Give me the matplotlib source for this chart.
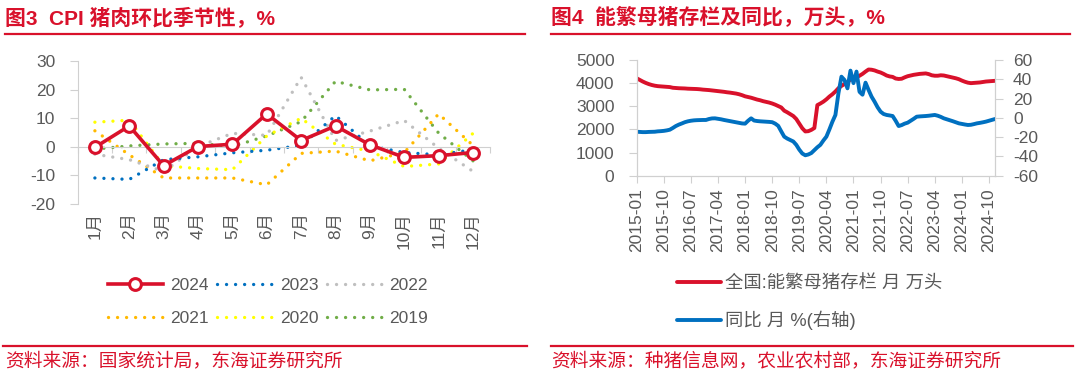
import matplotlib
matplotlib.use('Agg')
import matplotlib.pyplot as plt
from matplotlib.lines import Line2D
import numpy as np

plt.rcParams['font.family'] = ['Liberation Sans', 'Noto Sans CJK SC']
plt.rcParams['axes.unicode_minus'] = False

# ---------------- data: left chart (CPI pork MoM, %) ----------------
months = ['1月', '2月', '3月', '4月', '5月', '6月', '7月', '8月', '9月', '10月', '11月', '12月']
s2024 = [-0.2, 7.3, -6.6, 0.1, 0.9, 11.5, 2.2, 7.3, 0.7, -3.7, -3.1, -2.0]
s2023 = [-10.9, -11.4, -4.5, -3.5, -2.1, -1.2, 0.5, 10.9, 0.3, -2.0, -2.8, -1.0]
s2022 = [-2.6, -4.5, -8.6, 0.1, 4.7, 4.0, 24.3, 2.2, 5.5, 9.2, -0.5, -8.6]
s2021 = [5.6, -2.8, -10.9, -10.9, -10.9, -13.3, -2.3, -1.5, -4.9, -2.0, 11.5, 0.5]
s2020 = [8.6, 9.3, -6.6, -7.6, -8.0, 3.8, 10.0, 0.9, -1.5, -6.9, -6.0, 4.7]
s2019 = [-0.8, 0.3, 1.0, 1.2, 0.1, 3.8, 8.8, 22.9, 19.9, 20.1, 4.8, -4.9]

# ---------------- data: right chart (sows inventory) ----------------
sows = [
    4210, 4140, 4070, 4010, 3960, 3920, 3890, 3870, 3860, 3850, 3840, 3830,   # 2015
    3800, 3790, 3780, 3775, 3770, 3760, 3755, 3750, 3745, 3735, 3720, 3710,   # 2016
    3700, 3685, 3670, 3655, 3640, 3625, 3605, 3590, 3570, 3550, 3520, 3480,   # 2017
    3430, 3400, 3370, 3330, 3290, 3260, 3220, 3190, 3160, 3120, 3070, 3010,   # 2018
    2950, 2810, 2740, 2660, 2580, 2450, 2250, 2050, 1913, 1924, 1980, 2060,   # 2019
    3050, 3120, 3200, 3300, 3420, 3520, 3640, 3780, 3880, 3960, 4040, 4160,   # 2020
    4200, 4260, 4320, 4400, 4500, 4590, 4580, 4550, 4500, 4460, 4400, 4330,   # 2021
    4290, 4270, 4200, 4180, 4190, 4250, 4300, 4330, 4360, 4380, 4400, 4410,   # 2022
    4420, 4390, 4340, 4320, 4320, 4340, 4330, 4300, 4270, 4240, 4210, 4170,   # 2023
    4110, 4060, 4020, 4000, 4010, 4020, 4030, 4050, 4070, 4080, 4090, 4100,   # 2024
]
yoy = [
    -14.4, -14.6, -14.8, -14.8, -14.6, -14.5, -14.4, -14.0, -13.8, -13.5, -13.0, -12.3,  # 2015
    -10.5, -8.5, -7.0, -5.8, -4.5, -3.6, -3.0, -2.6, -2.4, -2.3, -2.2, -2.2,             # 2016
    -1.2, -0.6, -0.5, -1.0, -1.5, -2.2, -2.8, -3.4, -4.0, -4.6, -5.2, -5.8,              # 2017
    -6.0, -3.0, -0.5, -2.8, -3.3, -3.6, -3.8, -4.0, -4.2, -4.5, -6.0, -8.3,              # 2018
    -14.0, -19.5, -21.5, -23.0, -24.5, -28.0, -33.0, -37.0, -38.8, -38.0, -36.5, -33.5,  # 2019
    -30.5, -28.0, -23.5, -19.5, -12.0, -4.0, 3.0, 25.5, 42.7, 39.3, 30.6, 49.0,          # 2020
    36.0, 48.0, 27.0, 24.0, 36.5, 29.0, 22.0, 16.8, 11.0, 6.4, 4.0, 3.0,                 # 2021
    2.5, 1.9, -3.0, -8.5, -7.5, -6.0, -5.0, -3.0, -1.0, 1.2, 1.5, 1.7,                   # 2022
    1.9, 2.2, 2.6, 3.0, 2.2, 1.0, -0.5, -1.5, -2.5, -3.5, -4.6, -5.7,                    # 2023
    -6.3, -6.9, -7.4, -7.2, -6.5, -5.7, -5.2, -4.6, -3.9, -3.0, -2.1, -1.2,              # 2024
]
date_tick_labels = ['2015-01', '2015-10', '2016-07', '2017-04', '2018-01', '2018-10', '2019-07',
                    '2020-04', '2021-01', '2021-10', '2022-07', '2023-04', '2024-01', '2024-10']

W, H = 1075, 384
fig = plt.figure(figsize=(W / 100, H / 100), dpi=100)


def fx(px):
    return px / W


def fy(py):
    return 1 - py / H


RED = '#d9112b'
TXT = '#595959'
AXC = '#d0d0d0'
BLUE = '#0070c0'

# ---------------- headers & footers ----------------
fig.text(fx(5), fy(18), '图3  CPI 猪肉环比季节性，%', color=RED, fontsize=15, fontweight='bold',
         ha='left', va='center')
fig.text(fx(551), fy(18), '图4  能繁母猪存栏及同比，万头，%', color=RED, fontsize=15, fontweight='bold',
         ha='left', va='center')
for x0, x1 in [(5, 525), (551, 1070)]:
    fig.add_artist(Line2D([fx(x0), fx(x1)], [fy(34), fy(34)], color=RED, lw=1.6))
for x0, x1 in [(3, 527), (551, 1073)]:
    fig.add_artist(Line2D([fx(x0), fx(x1)], [fy(346), fy(346)], color=RED, lw=1.6))
fig.text(fx(5), fy(361), '资料来源：国家统计局，东海证券研究所', color=RED, fontsize=13.5,
         ha='left', va='center')
fig.text(fx(551), fy(361), '资料来源：种猪信息网，农业农村部，东海证券研究所', color=RED, fontsize=13.5,
         ha='left', va='center')

# ---------------- left chart ----------------
ax1 = fig.add_axes([fx(77.7), fy(204), fx(490.2) - fx(77.7), (204 - 61) / H])
x = np.arange(len(months))
dot = (0, (0.01, 2.7))
series = [('2019', s2019, '#70ad47'), ('2020', s2020, '#ffff00'), ('2021', s2021, '#ffb900'),
          ('2022', s2022, '#bfbfbf'), ('2023', s2023, BLUE)]
handles = {}
for name, vals, col in series:
    ln, = ax1.plot(x, vals, color=col, lw=2.4, linestyle=dot, dash_capstyle='round', label=name)
    handles[name] = ln
ln24, = ax1.plot(x, s2024, color=RED, lw=2.6, marker='o', markersize=8.5, markerfacecolor='white',
                 markeredgecolor=RED, markeredgewidth=2.2, label='2024', zorder=5)
handles['2024'] = ln24

ax1.set_xlim(-0.5, 11.5)
ax1.set_ylim(-20, 30)
for s in ['top', 'right']:
    ax1.spines[s].set_visible(False)
ax1.spines['bottom'].set_position(('data', 0))
ax1.spines['bottom'].set_color(AXC)
ax1.spines['left'].set_color(AXC)
ax1.set_xticks(np.arange(-0.5, 12, 1))
ax1.set_xticklabels([])
ax1.tick_params(axis='x', length=4, color=AXC, direction='out')
ax1.set_yticks(range(-20, 31, 10))
ax1.tick_params(axis='y', length=6, color=AXC, labelsize=12.5, labelcolor=TXT, pad=10)
sec = ax1.secondary_xaxis('bottom')
sec.set_xticks(x, labels=months)
sec.tick_params(length=0, pad=6, labelrotation=90, labelsize=12.5, labelcolor=TXT)
sec.spines['bottom'].set_visible(False)

# column-major fill so rows read 2024 2023 2022 / 2021 2020 2019
order = ['2024', '2021', '2023', '2020', '2022', '2019']
fig.legend([handles[k] for k in order], order, loc='center', ncol=3,
           bbox_to_anchor=(fx(268), fy(302)), frameon=False, fontsize=12.5,
           labelcolor=TXT, handlelength=3.2, handletextpad=0.4, columnspacing=0.5,
           labelspacing=1.0, borderpad=0, borderaxespad=0)

# ---------------- right chart ----------------
ax2 = fig.add_axes([fx(636.7), fy(175.7), fx(995) - fx(636.7), (175.7 - 60) / H])
idx = np.arange(len(sows))
l1, = ax2.plot(idx, sows, color=RED, lw=2.8, solid_capstyle='round')
ax2.set_xlim(0, len(sows) - 1)
ax2.set_ylim(0, 5000)
ax2.set_yticks(range(0, 5001, 1000))
ax2.set_xticks(np.arange(0, len(sows), 9), labels=date_tick_labels)
ax2.tick_params(axis='x', length=5, color=AXC, labelrotation=90, labelsize=12.5, labelcolor=TXT, pad=4)
ax2.tick_params(axis='y', length=6, color=AXC, labelsize=12.5, labelcolor=TXT, pad=10)
ax3 = ax2.twinx()
l2, = ax3.plot(idx, yoy, color=BLUE, lw=2.8, solid_capstyle='round')
ax3.set_ylim(-60, 60)
ax3.set_yticks(range(-60, 61, 20))
ax3.tick_params(axis='y', length=6, color=AXC, labelsize=12.5, labelcolor=TXT, pad=7)
for a in (ax2, ax3):
    a.spines['top'].set_visible(False)
    for s in ['left', 'right', 'bottom']:
        a.spines[s].set_color(AXC)

fig.legend([l1, l2], ['全国:能繁母猪存栏 月 万头', '同比 月 %(右轴)'], loc='center left',
           bbox_to_anchor=(fx(677), fy(303)), frameon=False, fontsize=13.2, labelcolor=TXT,
           handlelength=2.4, handletextpad=0.2, labelspacing=1.0, borderpad=0, borderaxespad=0)

fig.savefig('out.png', dpi=100)
